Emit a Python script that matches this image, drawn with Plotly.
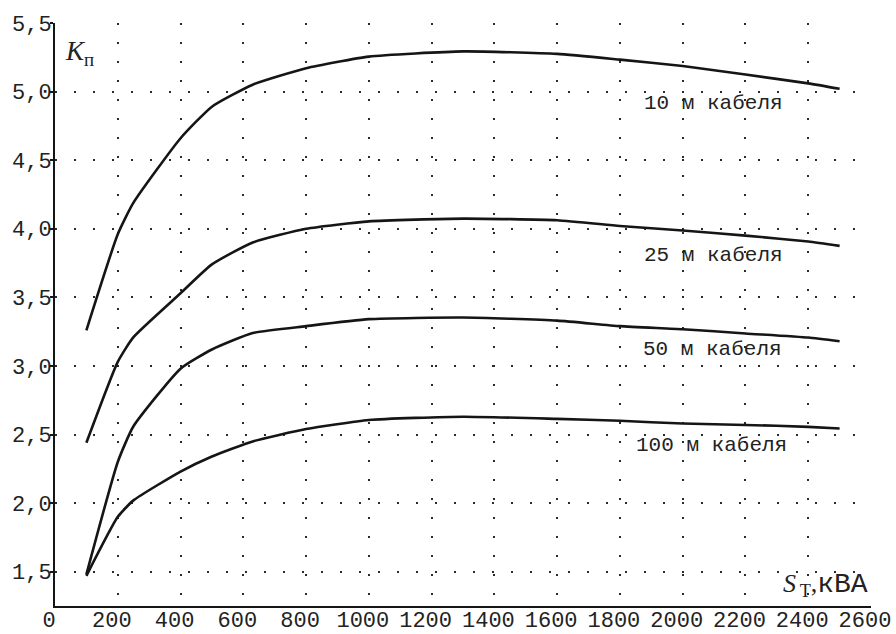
import plotly.graph_objects as go

# Transformer power S_T, kVA
s_t = [100, 200, 250, 400, 500, 630, 800, 1000, 1300, 1600, 1800, 2000, 2200, 2400, 2500]

k_10m = [3.26, 3.96, 4.19, 4.66, 4.89, 5.05, 5.17, 5.255, 5.293, 5.275, 5.233, 5.187, 5.124, 5.06, 5.02]
k_25m = [2.44, 3.03, 3.21, 3.53, 3.74, 3.90, 4.00, 4.054, 4.074, 4.062, 4.02, 3.987, 3.95, 3.907, 3.875]
k_50m = [1.48, 2.30, 2.56, 2.98, 3.12, 3.24, 3.29, 3.341, 3.353, 3.33, 3.29, 3.268, 3.237, 3.207, 3.18]
k_100m = [1.47, 1.90, 2.02, 2.23, 2.34, 2.45, 2.54, 2.606, 2.63, 2.614, 2.60, 2.58, 2.57, 2.556, 2.544]

series = [k_10m, k_25m, k_50m, k_100m]
labels = ["10 м кабеля", "25 м кабеля", "50 м кабеля", "100 м кабеля"]
label_x = [2099, 2099, 2096, 2093]
label_y = [4.91, 3.805, 3.12, 2.42]

x_ticks = list(range(0, 2601, 200))
x_ticktext = [str(v) for v in x_ticks]
y_ticks = [1.5, 2.0, 2.5, 3.0, 3.5, 4.0, 4.5, 5.0, 5.5]
y_ticktext = ["1,5", "2,0", "2,5", "3,0", "3,5", "4,0", "4,5", "5,0", "5,5"]

fig = go.Figure()
for ys in series:
    fig.add_trace(go.Scatter(x=s_t, y=ys, mode="lines",
                             line=dict(color="#151515", width=2.6, shape="spline", smoothing=0.5),
                             showlegend=False, hoverinfo="skip"))

mono = "Liberation Mono"
serif = "Liberation Serif"

annotations = []
for t, lx, ly in zip(labels, label_x, label_y):
    annotations.append(dict(x=lx, y=ly, xref="x", yref="y", text=t, showarrow=False,
                            xanchor="center", yanchor="middle",
                            font=dict(family=mono, size=21, color="#222")))

annotations.append(dict(x=25, y=5.42, xref="x", yref="y",
                        text="<i>K</i><sub>п</sub>", showarrow=False,
                        xanchor="left", yanchor="top",
                        font=dict(family=serif, size=27, color="#222")))
annotations.append(dict(x=2598, y=1.27, xref="x", yref="y",
                        text="<i>S</i><sub>\u2009Т</sub>,<span style='font-family:Liberation Mono;font-size:28px'>кВА</span>",
                        showarrow=False, xanchor="right", yanchor="bottom",
                        font=dict(family=serif, size=26, color="#222")))

fig.update_layout(
    width=896, height=634,
    margin=dict(l=55, r=25, t=23, b=28),
    paper_bgcolor="white", plot_bgcolor="white",
    annotations=annotations,
    xaxis=dict(range=[0, 2600], tickmode="array", tickvals=x_ticks, ticktext=x_ticktext,
               showgrid=True, gridcolor="#2a2a2a", gridwidth=1.8, griddash="2px,17px",
               showline=True, linecolor="#151515", linewidth=2, zeroline=False,
               ticks="", automargin=False, ticklabeloverflow="allow",
               ticklabelstandoff=-7, ticklabelshift=-6,
               tickfont=dict(family=mono, size=22, color="#222")),
    yaxis=dict(range=[1.25, 5.5], tickmode="array", tickvals=y_ticks, ticktext=y_ticktext,
               showgrid=True, gridcolor="#2a2a2a", gridwidth=1.8, griddash="2px,17px",
               showline=True, linecolor="#151515", linewidth=2, zeroline=False,
               ticks="outside", ticklen=3, tickcolor="#151515", tickwidth=1.5,
               automargin=False, ticklabelstandoff=-6,
               tickfont=dict(family=mono, size=22, color="#222")),
)

fig.write_html("out.html")
